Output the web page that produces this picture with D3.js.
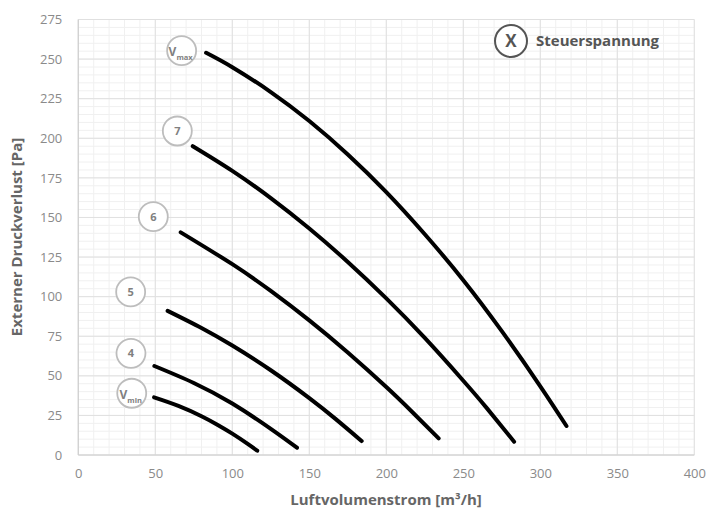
<!DOCTYPE html>
<html><head><meta charset="utf-8">
<script src="https://cdn.jsdelivr.net/npm/d3@7"></script>
<style>body{margin:0;background:#fff}svg{display:block}</style>
</head><body>
<svg id="c" width="710" height="511"></svg>
<script>
const xTicks = [0,50,100,150,200,250,300,350,400];
const yTicks = [0,25,50,75,100,125,150,175,200,225,250,275];
const seriesNames = ["Vmax","7","6","5","4","Vmin"];
const vmax = [[83,254],[100,244.9],[125,229.2],[150,210.9],[175,189.8],[200,166],[225,139.4],[250,110.4],[275,78.2],[300,43.4],[317,18.3]];
const s7 = [[74.3,195],[100,179.4],[125,162.2],[150,143],[175,121.9],[200,98.9],[225,73.9],[250,46.9],[265,29.9],[283,8.4]];
const s6 = [[66.5,140.6],[100,120.5],[125,103.6],[150,85],[175,64.7],[200,42.9],[217,27],[234,10.5]];
const s5 = [[58,91],[80,80.2],[100,69.1],[125,53.5],[150,35.9],[167,22.8],[184,8.8]];
const s4 = [[49.4,56.2],[75,45.5],[100,32.5],[125,16.5],[142,4.6]];
const vmin = [[49.2,36.4],[65,31],[80,24.5],[90,19.3],[100,13.5],[110,7],[116.2,2.7]];
const labelPos = [[67.1,255.3],[64.3,204.6],[48.7,150.5],[34,103],[34.2,64.2],[34.7,39]];
const labelMain = ["V","7","6","5","4","V"];
const labelSub = ["max","","","","","min"];
const legendText = "Steuerspannung";
const legendSymbol = "X";
const xTitle = "Luftvolumenstrom [m³/h]";
const yTitle = "Externer Druckverlust [Pa]";

const svg = d3.select("#c");
const L=78.3,R=694.3,T=19.5,B=455;
const x = d3.scaleLinear().domain([0,400]).range([L,R]);
const y = d3.scaleLinear().domain([0,275]).range([B,T]);
const font = "'Open Sans', 'Noto Sans', sans-serif";

// minor grid
const g = svg.append("g");
g.selectAll("line.mx").data(d3.range(0,401,10)).join("line")
 .attr("x1",d=>x(d)).attr("x2",d=>x(d)).attr("y1",T).attr("y2",B)
 .attr("stroke","#f0f0f0").attr("stroke-width",1);
g.selectAll("line.my").data(d3.range(0,276,5)).join("line")
 .attr("y1",d=>y(d)).attr("y2",d=>y(d)).attr("x1",L).attr("x2",R)
 .attr("stroke","#f0f0f0").attr("stroke-width",1);
// major grid
g.selectAll("line.Mx").data(xTicks).join("line")
 .attr("x1",d=>x(d)).attr("x2",d=>x(d)).attr("y1",T).attr("y2",B)
 .attr("stroke","#e0e0e0").attr("stroke-width",1);
g.selectAll("line.My").data(yTicks).join("line")
 .attr("y1",d=>y(d)).attr("y2",d=>y(d)).attr("x1",L).attr("x2",R)
 .attr("stroke","#e0e0e0").attr("stroke-width",1);
svg.append("line").attr("x1",L).attr("x2",R).attr("y1",B).attr("y2",B).attr("stroke","#d0d0d0").attr("stroke-width",1.2);
svg.append("line").attr("x1",L).attr("x2",L).attr("y1",T).attr("y2",B).attr("stroke","#d0d0d0").attr("stroke-width",1.2);

// axes
const xa = svg.append("g").attr("transform",`translate(0,${B})`)
 .call(d3.axisBottom(x).tickValues(xTicks).tickSize(0).tickPadding(14));
const ya = svg.append("g").attr("transform",`translate(${L},0)`)
 .call(d3.axisLeft(y).tickValues(yTicks).tickSize(0).tickPadding(16));
[xa,ya].forEach(a=>{a.select(".domain").remove();
 a.selectAll("text").attr("font-family",font).attr("font-size",13).attr("fill","#8a8a8a");});

svg.append("text").attr("x",386).attr("y",505).attr("text-anchor","middle")
 .attr("font-family",font).attr("font-weight",700).attr("font-size",15).attr("fill","#666").text(xTitle);
svg.append("text").attr("transform","translate(22,237) rotate(-90)").attr("text-anchor","middle")
 .attr("font-family",font).attr("font-weight",700).attr("font-size",15).attr("fill","#666").text(yTitle);

// curves
const line = d3.line().x(d=>x(d[0])).y(d=>y(d[1])).curve(d3.curveNatural);
const data = [vmax,s7,s6,s5,s4,vmin];
svg.append("g").selectAll("path").data(data).join("path")
 .attr("d",line).attr("fill","none").attr("stroke","#000").attr("stroke-width",4)
 .attr("stroke-linecap","round");

// labels
const lg = svg.append("g").selectAll("g").data(seriesNames).join("g")
 .attr("transform",(d,i)=>`translate(${x(labelPos[i][0])},${y(labelPos[i][1])})`);
lg.append("circle").attr("r",14.5).attr("fill","#fff").attr("stroke","#bdbdbd").attr("stroke-width",1.8);
lg.each(function(d,i){
  const t = d3.select(this).append("text").attr("font-family",font).attr("font-weight",700)
    .attr("fill","#808080").attr("text-anchor","middle").attr("dy","0.35em");
  if(labelSub[i]){
    t.attr("x",-1);
    t.append("tspan").attr("font-size",12).text(labelMain[i]);
    t.append("tspan").attr("font-size",7.5).attr("dy",4).text(labelSub[i]);
  } else {
    t.attr("font-size",11).text(labelMain[i]);
  }
});

// legend
svg.append("circle").attr("cx",511).attr("cy",41).attr("r",16).attr("fill","#fff")
 .attr("stroke","#555").attr("stroke-width",2);
svg.append("text").attr("x",511).attr("y",41).attr("dy","0.36em").attr("text-anchor","middle")
 .attr("font-family",font).attr("font-weight",700).attr("font-size",17).attr("fill","#555").text(legendSymbol);
svg.append("text").attr("x",536).attr("y",41).attr("dy","0.36em")
 .attr("font-family",font).attr("font-weight",700).attr("font-size",15).attr("fill","#555").text(legendText);
</script>
</body></html>
